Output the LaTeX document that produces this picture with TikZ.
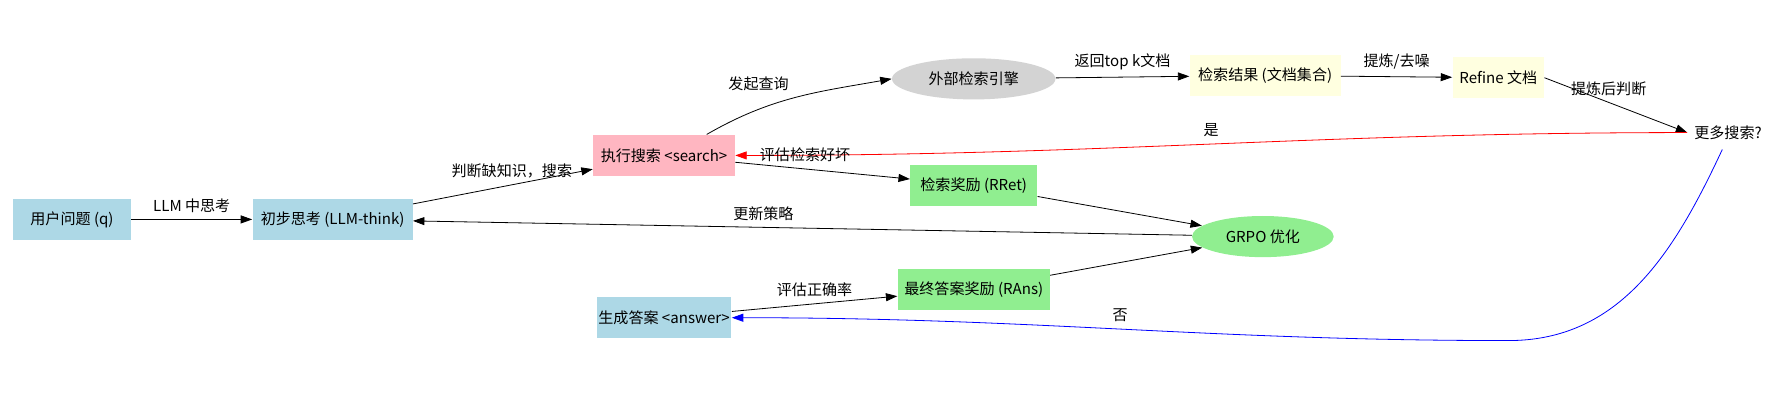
\documentclass[tikz,border=0pt]{standalone}
\usepackage{fontspec}
\setmainfont{Noto Sans CJK SC}
\usetikzlibrary{positioning, shapes.geometric, arrows.meta}
\definecolor{lblue}{HTML}{ADD8E6}
\definecolor{lpink}{HTML}{FFB6C1}
\definecolor{lyel}{HTML}{FFFFE0}
\definecolor{lgreen}{HTML}{90EE90}
\definecolor{lgray}{HTML}{D3D3D3}
\tikzset{
  box/.style={rectangle, inner sep=0pt, minimum height=0.72cm, font=\fontsize{7.5}{9}\selectfont},
  oval/.style={ellipse, inner sep=0pt, minimum height=0.72cm, font=\fontsize{7.5}{9}\selectfont},
  lab/.style={font=\fontsize{7.5}{9}\selectfont},
  arr/.style={-{Triangle[length=2mm,width=1.4mm]}, thin}
}
\begin{document}
\begin{tikzpicture}
  \useasboundingbox (0,0) rectangle (31.36,-7.28);

  \node[box, fill=lblue, minimum width=2.06cm] (q) at (1.26,-3.84) {用户问题 (q)};
  \node[box, fill=lblue, minimum width=2.8cm] (think) at (5.82,-3.84) {初步思考 (LLM-think)};
  \node[box, fill=lpink, minimum width=2.48cm] (search) at (11.62,-2.72) {执行搜索 <search>};
  \node[oval, fill=lgray, minimum width=2.86cm] (engine) at (17.04,-1.38) {外部检索引擎};
  \node[box, fill=lyel, minimum width=2.64cm] (result) at (22.14,-1.32) {检索结果 (文档集合)};
  \node[box, fill=lyel, minimum width=1.6cm] (refine) at (26.22,-1.36) {Refine 文档};
  \node[lab] (more) at (30.24,-2.32) {更多搜索?};
  \node[box, fill=lgreen, minimum width=2.22cm] (rret) at (17.04,-3.24) {检索奖励 (RRet)};
  \node[oval, fill=lgreen, minimum width=2.48cm] (grpo) at (22.1,-4.14) {GRPO 优化};
  \node[box, fill=lgreen, minimum width=2.66cm] (rans) at (17.04,-5.06) {最终答案奖励 (RAns)};
  \node[box, fill=lblue, minimum width=2.36cm] (answer) at (11.62,-5.56) {生成答案 <answer>};

  % Draw edges
  \draw[arr] (q) -- node[lab, above] {LLM 中思考} (think);
  \draw[arr] (think) -- node[lab, above, pos=0.55] {判断缺知识，搜索} (search);
  \draw[arr] (search.north east) ++(-0.5,0) to[out=30, in=190] node[lab, above left, pos=0.5] {发起查询} (engine.west);
  \draw[arr] (engine) -- node[lab, above] {返回top k文档} (result);
  \draw[arr] (result) -- node[lab, above] {提炼/去噪} (refine);
  \draw[arr] (refine.east) -- node[lab, above, pos=0.45] {提炼后判断} (more.west);
  \draw[arr, red] (more.west) to[out=180, in=0] node[lab, above, black] {是} (search.east);
  \draw[arr] (search) -- node[lab, above, pos=0.4] {评估检索好坏} (rret);
  \draw[arr] (rret) -- (grpo);
  \draw[arr] (grpo) -- node[lab, above, pos=0.55] {更新策略} (think);
  \draw[arr] (answer) -- node[lab, above, pos=0.5] {评估正确率} (rans);
  \draw[arr] (rans) -- (grpo);
  \coordinate (bend) at (26.4,-5.96);
  \draw[arr, blue] (more.south) ++(-0.1,-0.05) to[out=-115, in=0] (bend) to[out=180, in=0] node[lab, above, black] {否} (answer.east);
\end{tikzpicture}
\end{document}
